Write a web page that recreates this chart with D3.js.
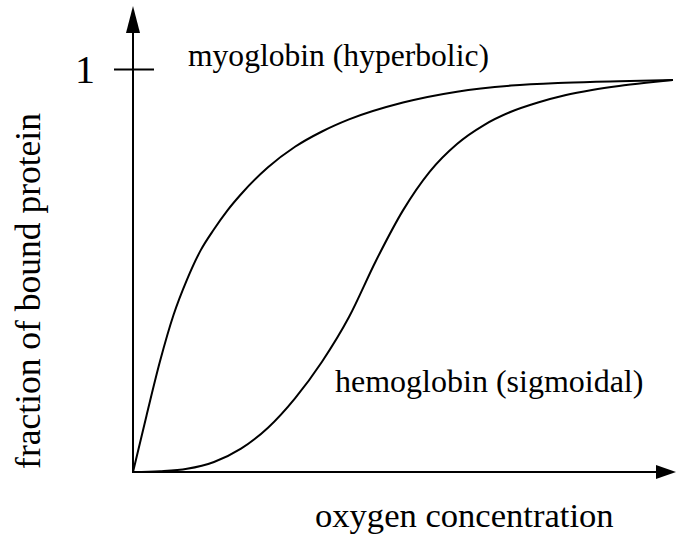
<!DOCTYPE html>
<html>
<head>
<meta charset="utf-8">
<script src="https://cdn.jsdelivr.net/npm/d3@7"></script>
<style>
  html, body { margin: 0; padding: 0; background: #fff; }
  svg { display: block; }
</style>
</head>
<body>
<svg id="chart" width="676" height="543"></svg>
<script>
// Oxygen concentration (arbitrary units) vs. fraction of bound protein
const myoglobinX = [0, 0.25, 0.5, 0.75, 1, 1.25, 1.5, 1.75, 2, 2.5, 3, 3.5, 4, 5, 6, 7, 8, 9, 10];
const myoglobinY = [0, 0.140, 0.275, 0.390, 0.478, 0.550, 0.603, 0.650, 0.690, 0.757, 0.808, 0.846, 0.876, 0.918, 0.945, 0.960, 0.967, 0.971, 0.974];

const hemoglobinX = [0, 0.5, 1, 1.5, 2, 2.5, 3, 3.5, 4, 4.5, 5, 5.5, 6, 6.5, 7, 7.5, 8, 8.5, 9, 9.5, 10];
const hemoglobinY = [0, 0.002, 0.008, 0.025, 0.058, 0.110, 0.183, 0.274, 0.385, 0.525, 0.650, 0.747, 0.815, 0.862, 0.895, 0.918, 0.936, 0.949, 0.959, 0.967, 0.974];

const yTickValues = [1];
const yTickLabels = ["1"];

const curveLabels = ["myoglobin (hyperbolic)", "hemoglobin (sigmoidal)"];
const xTitle = "oxygen concentration";
const yTitle = "fraction of bound protein";

const serif = "'Liberation Serif', Tinos, 'Times New Roman', Times, 'DejaVu Serif', serif";

const svg = d3.select("#chart")
  .attr("font-family", serif);

const x = d3.scaleLinear().domain([0, 10]).range([133, 673]);
const y = d3.scaleLinear().domain([0, 1]).range([472, 69.5]);

const stroke = "#000";

// axes with arrowheads
const x0 = x(0), y0 = y(0);
const xEnd = 676, yEnd = 6;

svg.append("line")
  .attr("x1", x0).attr("y1", y0)
  .attr("x2", xEnd - 18).attr("y2", y0)
  .attr("stroke", stroke).attr("stroke-width", 2);
svg.append("path")
  .attr("d", `M${xEnd},${y0} L${xEnd - 20},${y0 - 7} L${xEnd - 20},${y0 + 7} Z`)
  .attr("fill", stroke);

svg.append("line")
  .attr("x1", x0).attr("y1", y0 + 1)
  .attr("x2", x0).attr("y2", yEnd + 20)
  .attr("stroke", stroke).attr("stroke-width", 2);
svg.append("path")
  .attr("d", `M${x0},${yEnd} L${x0 - 7},${yEnd + 27} L${x0 + 7},${yEnd + 27} Z`)
  .attr("fill", stroke);

// cross tick and its label
const ticks = svg.append("g");
yTickValues.forEach((v, i) => {
  ticks.append("line")
    .attr("x1", x0 - 19).attr("x2", x0 + 21)
    .attr("y1", y(v)).attr("y2", y(v))
    .attr("stroke", stroke).attr("stroke-width", 2);
  ticks.append("text")
    .attr("x", 85).attr("y", y(v) + 13)
    .attr("text-anchor", "middle")
    .attr("font-family", serif)
    .attr("font-size", 40)
    .text(yTickLabels[i]);
});

// binding curves
const line = d3.line()
  .x(d => x(d[0]))
  .y(d => y(d[1]))
  .curve(d3.curveMonotoneX);

const series = [
  d3.zip(myoglobinX, myoglobinY),
  d3.zip(hemoglobinX, hemoglobinY)
];

svg.selectAll("path.curve")
  .data(series)
  .join("path")
  .attr("class", "curve")
  .attr("d", line)
  .attr("fill", "none")
  .attr("stroke", stroke)
  .attr("stroke-width", 2);

// curve labels
svg.append("text")
  .attr("x", 188).attr("y", 66)
  .attr("font-family", serif)
  .attr("font-size", 31.6)
  .text(curveLabels[0]);
svg.append("text")
  .attr("x", 335).attr("y", 392)
  .attr("font-family", serif)
  .attr("font-size", 32)
  .text(curveLabels[1]);

// axis titles
svg.append("text")
  .attr("x", 315).attr("y", 527)
  .attr("font-family", serif)
  .attr("font-size", 34.6)
  .text(xTitle);
svg.append("text")
  .attr("transform", "translate(40,291) rotate(-90)")
  .attr("text-anchor", "middle")
  .attr("font-family", serif)
  .attr("font-size", 35.5)
  .text(yTitle);
</script>
</body>
</html>
